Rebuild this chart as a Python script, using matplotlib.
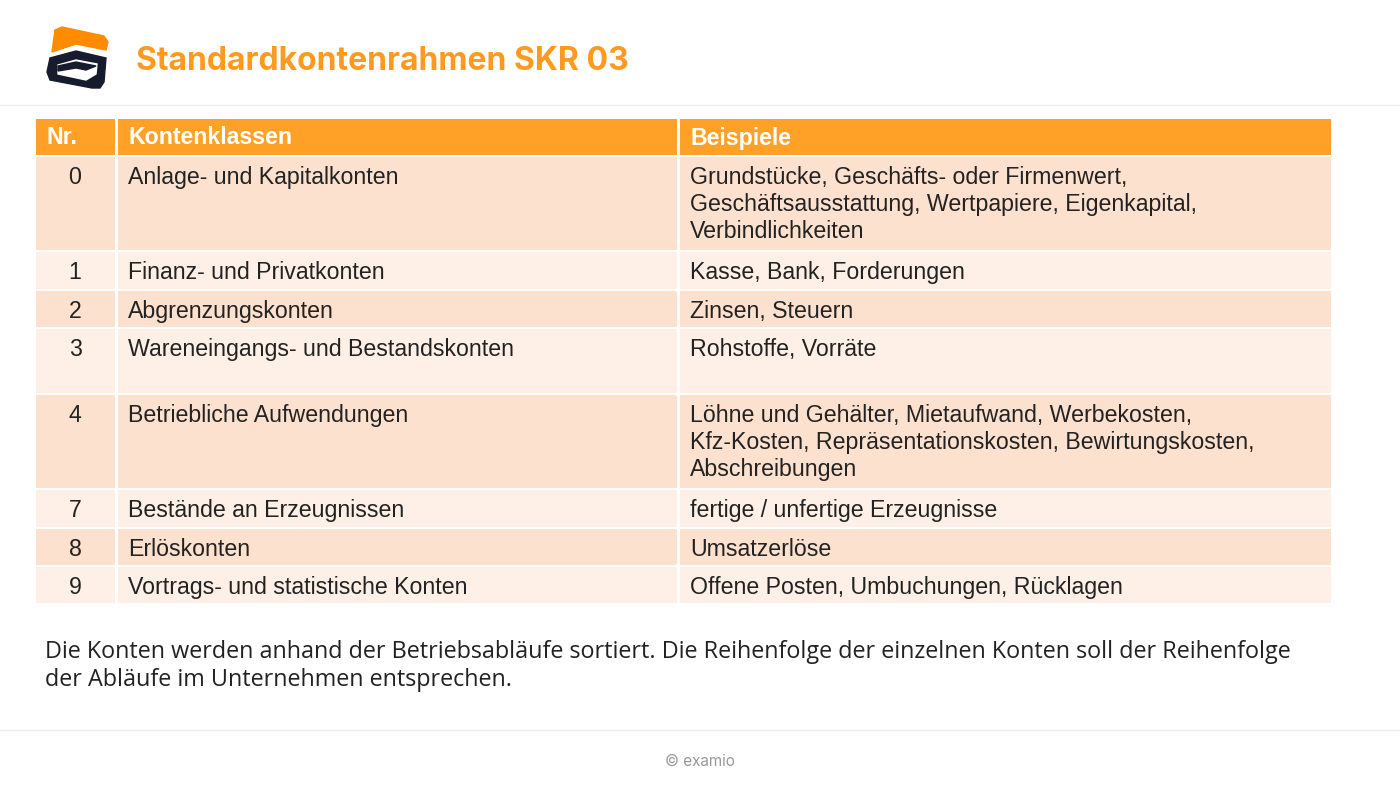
import matplotlib.pyplot as plt
from matplotlib.patches import Rectangle, Polygon

# Table content
nummern = ["0", "1", "2", "3", "4", "7", "8", "9"]
klassen = ["Anlage- und Kapitalkonten", "Finanz- und Privatkonten", "Abgrenzungskonten",
           "Wareneingangs- und Bestandskonten", "Betriebliche Aufwendungen",
           "Bestände an Erzeugnissen", "Erlöskonten", "Vortrags- und statistische Konten"]
beispiele = ["Grundstücke, Geschäfts- oder Firmenwert,\nGeschäftsausstattung, Wertpapiere, Eigenkapital,\nVerbindlichkeiten",
             "Kasse, Bank, Forderungen", "Zinsen, Steuern", "Rohstoffe, Vorräte",
             "Löhne und Gehälter, Mietaufwand, Werbekosten,\nKfz-Kosten, Repräsentationskosten, Bewirtungskosten,\nAbschreibungen",
             "fertige / unfertige Erzeugnisse", "Umsatzerlöse", "Offene Posten, Umbuchungen, Rücklagen"]
header = ["Nr.", "Kontenklassen", "Beispiele"]

# layout in pixels
row_tops = [157, 252, 291, 329, 395, 490, 529, 567]
row_bottoms = [250, 289, 327, 393, 488, 527, 565, 603]
cols = [(36, 115), (118, 677), (680, 1331)]
dark, light = "#fde1cf", "#fef0e7"
orange = "#ffa126"

fig = plt.figure(figsize=(14, 7.87), dpi=100)
ax = fig.add_axes([0, 0, 1, 1])
ax.set_xlim(0, 1400)
ax.set_ylim(787, 0)
ax.axis("off")

font = "Liberation Sans"
fs = 16.7

# logo
ax.add_patch(Polygon([(55, 30), (62, 27), (104, 36), (108, 42), (106, 50), (76, 44), (52, 52)],
                     closed=True, color="#ff8c00"))
ax.add_patch(Polygon([(47, 72), (50, 58), (76, 51), (106, 58), (104, 82), (100, 88), (92, 88), (50, 80)],
                     closed=True, color="#161c2e"))
ax.add_patch(Polygon([(58, 65), (76, 60), (97, 64), (96, 74), (86, 80), (58, 74)],
                     closed=True, color="white"))
ax.add_patch(Polygon([(58, 66), (76, 62), (96, 66), (86, 70), (76, 68), (58, 71)],
                     closed=True, color="#161c2e"))

ax.text(136, 62, "Standardkontenrahmen SKR 03", fontsize=23, fontweight="bold",
        color="#ff9a1f", family="Inter", va="center")
ax.plot([0, 1400], [105, 105], color="#eeeeee", lw=1)

# header
for (x0, x1), h in zip(cols, header):
    ax.add_patch(Rectangle((x0, 119), x1 - x0, 36, color=orange, lw=0))
    ax.text(x0 + 10, 138, h, fontsize=fs, fontweight="bold", color="white", family=font, va="center")

for i in range(len(nummern)):
    c = dark if i % 2 == 0 else light
    y0, y1 = row_tops[i], row_bottoms[i]
    for x0, x1 in cols:
        ax.add_patch(Rectangle((x0, y0), x1 - x0, y1 - y0, color=c, lw=0))
    ax.text(75, y0 + 9, nummern[i], fontsize=fs, family=font, ha="center", va="top", color="#222222")
    ax.text(cols[1][0] + 10, y0 + 9, klassen[i], fontsize=fs, family=font, va="top", color="#222222")
    ax.text(cols[2][0] + 10, y0 + 9, beispiele[i], fontsize=fs, family=font, va="top",
            color="#222222", linespacing=1.21)

ax.text(45, 640, "Die Konten werden anhand der Betriebsabläufe sortiert. Die Reihenfolge der einzelnen Konten soll der Reihenfolge\nder Abläufe im Unternehmen entsprechen.",
        fontsize=16.8, family="Open Sans", va="top", color="#222222", linespacing=1.2)

ax.plot([0, 1400], [730, 730], color="#eeeeee", lw=1)
ax.text(700, 761, "© examio", fontsize=11, family="Inter", color="#999999", ha="center", va="center")

fig.savefig("out.png", dpi=100)
